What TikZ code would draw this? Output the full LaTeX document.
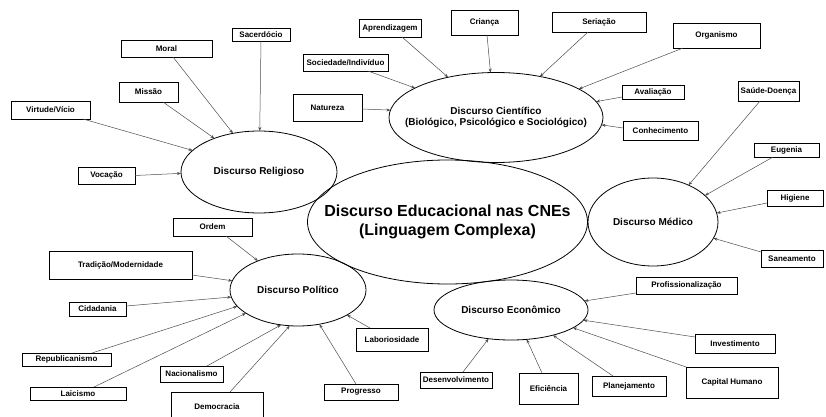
\documentclass[tikz,border=0pt]{standalone}
\usepackage{fontspec}
\setmainfont{Liberation Sans}
\usetikzlibrary{arrows.meta,shapes.geometric}
\begin{document}
\begin{tikzpicture}[x=1pt,y=-1pt,
  box/.style={draw=black, line width=0.7pt, inner sep=0pt, outer sep=0pt, font=\fontsize{8}{9}\selectfont\bfseries},
  disc/.style={ellipse, draw=black, line width=0.8pt, inner sep=-40pt, outer sep=0pt, align=center, font=\fontsize{10}{11.5}\selectfont\bfseries},
  conn/.style={draw=black!70, line width=0.5pt, -{Stealth[length=4pt,width=3pt]}}]
\useasboundingbox (0,0) rectangle (826,417);
\clip (0,0) rectangle (826,417);

% discourse ellipses
\node[disc, minimum width=280pt, minimum height=124pt, font=\fontsize{16}{19}\selectfont\bfseries] (edu) at (447.5,222) {Discurso Educacional nas CNEs\\(Linguagem Complexa)};
\node[disc, minimum width=156pt, minimum height=82pt] (rel) at (259,172) {Discurso Religioso};
\node[disc, minimum width=214pt, minimum height=90pt] (cie) at (496,117.5) {Discurso Científico\\(Biológico, Psicológico e Sociológico)};
\node[disc, minimum width=130pt, minimum height=88pt] (med) at (653,222) {Discurso Médico};
\node[disc, minimum width=136pt, minimum height=72pt] (pol) at (298,290) {Discurso Político};
\node[disc, minimum width=154pt, minimum height=60pt] (eco) at (511,310) {Discurso Econômico};

% religious
\node[box, minimum width=58pt, minimum height=13pt] (sac) at (261,34.5) {Sacerdócio};
\node[box, minimum width=91pt, minimum height=17pt] (mor) at (166.5,48.5) {Moral};
\node[box, minimum width=59pt, minimum height=20pt] (mis) at (148.5,92) {Missão};
\node[box, minimum width=79pt, minimum height=18pt] (vir) at (50.5,110) {Virtude/Vício};
\node[box, minimum width=57pt, minimum height=17pt] (voc) at (106.5,175.5) {Vocação};

% scientific
\node[box, minimum width=62pt, minimum height=18pt] (apr) at (390,28) {Aprendizagem};
\node[box, minimum width=67pt, minimum height=25pt] (cri) at (484.5,22.5) {Criança};
\node[box, minimum width=85pt, minimum height=17pt] (soc) at (345.5,62.5) {Sociedade/Indivíduo};
\node[box, minimum width=69pt, minimum height=27pt] (nat) at (327.5,107.5) {Natureza};
\node[box, minimum width=94pt, minimum height=20pt] (ser) at (599,22) {Seriação};
\node[box, minimum width=87pt, minimum height=25pt] (org) at (716.5,35.5) {Organismo};
\node[box, minimum width=62pt, minimum height=14pt] (ava) at (653,92) {Avaliação};
\node[box, minimum width=75pt, minimum height=19pt] (con) at (660.5,130.5) {Conhecimento};

% medical
\node[box, minimum width=61pt, minimum height=20pt] (sau) at (768.5,91) {Saúde-Doença};
\node[box, minimum width=65pt, minimum height=14pt] (eug) at (786.5,150) {Eugenia};
\node[box, minimum width=56pt, minimum height=16pt] (hig) at (795,198) {Higiene};
\node[box, minimum width=62pt, minimum height=17pt] (san) at (792,258.5) {Saneamento};

% political
\node[box, minimum width=79pt, minimum height=18pt] (ord) at (212.5,227) {Ordem};
\node[box, minimum width=143pt, minimum height=28pt] (tra) at (120.5,265) {Tradição/Modernidade};
\node[box, minimum width=57pt, minimum height=14pt] (cid) at (97.5,309) {Cidadania};
\node[box, minimum width=89pt, minimum height=13pt] (rep) at (66.5,359.5) {Republicanismo};
\node[box, minimum width=96pt, minimum height=13pt] (lai) at (78,393.5) {Laicismo};
\node[box, minimum width=63pt, minimum height=16pt] (nac) at (191.5,374) {Nacionalismo};
\node[box, minimum width=92pt, minimum height=30pt] (dem) at (217,407) {Democracia};
\node[box, minimum width=74pt, minimum height=16pt] (pro) at (361,392) {Progresso};
\node[box, minimum width=72pt, minimum height=23pt] (lab) at (392,339.5) {Laboriosidade};

% economic
\node[box, minimum width=101pt, minimum height=17pt] (prf) at (686.5,285.5) {Profissionalização};
\node[box, minimum width=80pt, minimum height=19pt] (inv) at (735,343.5) {Investimento};
\node[box, minimum width=92pt, minimum height=31pt] (cap) at (732,382.5) {Capital Humano};
\node[box, minimum width=74pt, minimum height=20pt] (pla) at (629,386) {Planejamento};
\node[box, minimum width=59pt, minimum height=31pt] (efi) at (548.5,388.5) {Eficiência};
\node[box, minimum width=72pt, minimum height=16pt] (des) at (456,380) {Desenvolvimento};

% connectors: religious
\draw[conn] (sac.south) -- (rel.89);
\draw[conn] ([xshift=6.5pt]mor.south) -- (rel.124.7);
\draw[conn] ([xshift=14.5pt]mis.south) -- (rel.143.5);
\draw[conn] ([xshift=32.5pt]vir.south) -- (rel.162.6);
\draw[conn] (voc.east) -- (rel.181);

% connectors: scientific
\draw[conn] ([xshift=12pt]apr.south) -- (cie.140.9);
\draw[conn] ([xshift=2.5pt]cri.south) -- (cie.97.8);
\draw[conn] ([xshift=22.5pt]soc.south) -- (cie.160.9);
\draw[conn] ([yshift=-1.5pt]nat.east) -- (cie.176.7);
\draw[conn] ([xshift=-11pt]ser.south) -- (cie.43);
\draw[conn] ([xshift=-33.5pt]org.south) -- (cie.19.7);
\draw[conn] ([yshift=-5pt]ava.west) -- (cie.9);
\draw[conn] ([yshift=2.5pt]con.west) -- (cie.-4.9);

% connectors: medical
\draw[conn] ([xshift=-8.5pt]sau.south) -- (med.46.6);
\draw[conn] ([xshift=-13.5pt]eug.south) -- (med.27.4);
\draw[conn] ([yshift=-5pt]hig.west) -- (med.8.7);
\draw[conn] ([yshift=6.5pt]san.west) -- (med.-15.7);

% connectors: political
\draw[conn] ([xshift=13.5pt]ord.south) -- (pol.144);
\draw[conn] ([yshift=-10pt]tra.east) -- (pol.172);
\draw[conn] ([yshift=3pt]cid.east) -- (pol.186);
\draw[conn] ([xshift=25.5pt]rep.north) -- (pol.195.8);
\draw[conn] ([xshift=16pt]lai.north) -- (pol.204.7);
\draw[conn] ([xshift=15.5pt]nac.north) -- (pol.244);
\draw[conn] ([xshift=13pt]dem.north) -- (pol.257.5);
\draw[conn] ([xshift=-5pt]pro.north) -- (pol.302.9);
\draw[conn] ([xshift=-22pt]lab.north) -- (pol.333.4);

% connectors: economic
\draw[conn] ([yshift=-7.5pt]prf.west) -- (eco.7.9);
\draw[conn] ([yshift=6.5pt]inv.west) -- (eco.-8.6);
\draw[conn] (cap.north west) -- (eco.-16.4);
\draw[conn] ([xshift=-16pt]pla.north) -- (eco.-31.4);
\draw[conn] ([xshift=-6.5pt]efi.north) -- (eco.-62.7);
\draw[conn] ([xshift=7pt]des.north) -- (eco.232.8);
\end{tikzpicture}
\end{document}
